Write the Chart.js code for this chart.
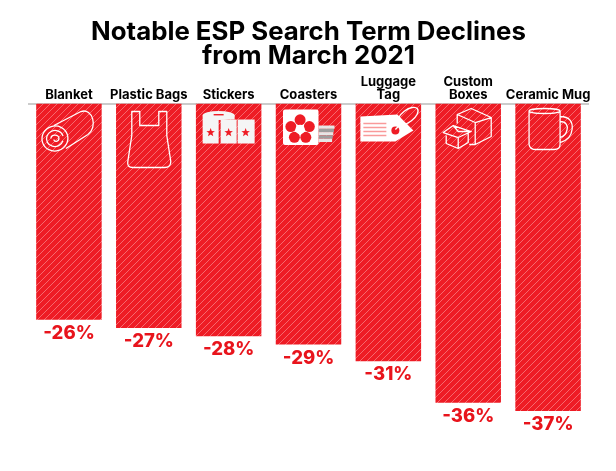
<!DOCTYPE html>
<html lang="en"><head>
  <meta charset="UTF-8">
  <title>Notable ESP Search Term Declines</title>
  <script src="https://cdn.jsdelivr.net/npm/chart.js"></script>
  <style>
    html, body { margin: 0; padding: 0; background: #fff; }
    #wrap { width: 616px; height: 471px; }
  </style>
</head><body>
<div id="wrap"><canvas id="chart"></canvas></div>
<script>
  const categories = ['Blanket', 'Plastic Bags', 'Stickers', 'Coasters', ['Luggage', 'Tag'], ['Custom', 'Boxes'], 'Ceramic Mug'];
  const declines = [-26, -27, -28, -29, -31, -36, -37];
  const iconNames = ['blanket', 'bag', 'stickers', 'coaster', 'tag', 'boxes', 'mug'];
  const titleLines = ['Notable ESP Search Term Declines', 'from March 2021'];

  const RED = '#ee1c25';
  const FONT = 'Inter, sans-serif';

  // diagonal stripes for the bars
  function hatch() {
    const size = 7;
    const c = document.createElement('canvas');
    c.width = size; c.height = size;
    const g = c.getContext('2d');
    g.fillStyle = RED;
    g.fillRect(0, 0, size, size);
    g.strokeStyle = '#f6686e';
    g.lineWidth = 1;
    g.beginPath();
    for (let i = -size; i <= size * 2; i += size) {
      g.moveTo(i, size);
      g.lineTo(i + size, 0);
    }
    g.stroke();
    return g.createPattern(c, 'repeat');
  }

  function star(g, x, y, r) {
    g.beginPath();
    for (let i = 0; i < 10; i++) {
      const a = -Math.PI / 2 + i * Math.PI / 5;
      const d = i % 2 ? r * 0.42 : r;
      g.lineTo(x + Math.cos(a) * d, y + Math.sin(a) * d);
    }
    g.closePath();
    g.fill();
  }

  // icons are decoration, drawn around the bar centre (x) below the axis line (y)
  const icons = {
    blanket(g) {
      g.beginPath();
      g.ellipse(-14, 35, 13, 12.5, -0.3, 0, Math.PI * 2);
      g.moveTo(-15, 22); g.lineTo(12, 8);
      g.bezierCurveTo(24, 4, 29, 24, 19, 31);
      g.lineTo(-3, 45);
      g.stroke();
      g.beginPath();
      g.ellipse(-14, 35, 8.5, 8, -0.3, 0.6, Math.PI * 2);
      g.moveTo(-18, 35);
      g.bezierCurveTo(-18, 30, -10, 31, -10, 35);
      g.bezierCurveTo(-10, 38, -15, 39, -15, 36);
      g.stroke();
    },
    bag(g) {
      g.beginPath();
      g.moveTo(-17, 8); g.lineTo(-9, 8); g.lineTo(-9, 22);
      g.lineTo(10, 22); g.lineTo(10, 8); g.lineTo(18, 8);
      g.lineTo(18, 32); g.lineTo(22, 58);
      g.quadraticCurveTo(22, 64, 16, 64);
      g.lineTo(-16, 64);
      g.quadraticCurveTo(-22, 64, -21, 58);
      g.lineTo(-17, 32);
      g.closePath();
      g.stroke();
    },
    stickers(g) {
      g.fillStyle = '#f5f5f5';
      g.beginPath();
      g.ellipse(-10, 12, 16, 4.5, 0, 0, Math.PI * 2);
      g.fill();
      g.fillRect(-26, 12, 16, 28);
      g.fillRect(-8, 16, 16, 24);
      g.fillRect(9, 16, 17, 24);
      g.fillRect(-10, 12, 16, 4);
      g.fillStyle = RED;
      g.fillRect(-15, 10.5, 10, 1.4);
      star(g, -18, 29, 4.5);
      star(g, 0, 29, 4.5);
      star(g, 17, 29, 4.5);
    },
    coaster(g) {
      // stack of coasters behind the front one
      for (let i = 0; i < 5; i++) {
        g.fillStyle = i % 2 ? '#9e9e9e' : '#e6e6e6';
        g.fillRect(10, 22 + i * 3.3, 16 - i * 0.6, 3.3);
      }
      g.fillStyle = '#fff';
      g.beginPath();
      g.roundRect(-25.5, 6, 35.5, 35.5, 2);
      g.fill();
      g.fillStyle = RED;
      for (let i = 0; i < 5; i++) {
        const a = -Math.PI / 2 + i * 2 * Math.PI / 5;
        g.beginPath();
        g.arc(-8.4 + Math.cos(a) * 9.7, 26 + Math.sin(a) * 9.7, 5.5, 0, Math.PI * 2);
        g.fill();
      }
      g.fillStyle = '#fff';
      g.beginPath();
      g.arc(-8.4, 26, 4.7, 0, Math.PI * 2);
      g.fill();
    },
    tag(g) {
      g.fillStyle = '#fff';
      g.beginPath();
      g.moveTo(-28, 13); g.lineTo(9, 11); g.lineTo(25, 27);
      g.lineTo(7, 38); g.lineTo(-28, 38);
      g.closePath();
      g.fill();
      g.strokeStyle = '#f99a9a';
      g.lineWidth = 1.3;
      g.beginPath();
      [20, 24, 28, 32].forEach(function (ly) { g.moveTo(-25, ly); g.lineTo(-2, ly); });
      g.stroke();
      g.fillStyle = RED;
      g.beginPath();
      g.arc(7, 27, 4, 0, Math.PI * 2);
      g.fill();
      g.strokeStyle = '#fff';
      g.lineWidth = 1.3;
      g.beginPath();
      g.ellipse(19.5, 12.5, 12, 6, -0.65, 0, Math.PI * 2);
      g.moveTo(7, 26); g.lineTo(13, 20);
      g.stroke();
    },
    boxes(g) {
      g.beginPath();
      g.moveTo(-11, 11); g.lineTo(3, 5); g.lineTo(23, 14); g.lineTo(7, 19); g.closePath();
      g.moveTo(-11, 11); g.lineTo(-11, 20);
      g.moveTo(7, 19); g.lineTo(7, 41); g.lineTo(1, 41);
      g.moveTo(23, 14); g.lineTo(23, 33); g.lineTo(7, 41);
      g.moveTo(-25, 29); g.lineTo(-15, 22); g.lineTo(3, 28); g.lineTo(-10, 34); g.closePath();
      g.moveTo(-15, 22); g.lineTo(-10, 28); g.lineTo(3, 28);
      g.moveTo(-22, 32); g.lineTo(-22, 40); g.lineTo(-10, 45); g.lineTo(-10, 34);
      g.moveTo(-10, 45); g.lineTo(0, 39); g.lineTo(0, 30);
      g.stroke();
    },
    mug(g) {
      g.beginPath();
      g.ellipse(-3.5, 7.5, 15.5, 2.5, 0, 0, Math.PI * 2);
      g.moveTo(-19, 7.5); g.lineTo(-19, 41);
      g.quadraticCurveTo(-18, 46, -12, 46);
      g.lineTo(6, 46);
      g.quadraticCurveTo(12, 46, 12, 41);
      g.lineTo(12, 7.5);
      g.moveTo(12, 13);
      g.bezierCurveTo(22, 13, 25, 19, 24, 26);
      g.quadraticCurveTo(23, 36, 12, 39);
      g.moveTo(12, 18);
      g.bezierCurveTo(18, 18, 20, 22, 19, 26);
      g.quadraticCurveTo(18, 32, 12, 34);
      g.stroke();
    }
  };

  // value labels under the bars and icons on top of them
  const barExtras = {
    id: 'barExtras',
    afterDatasetsDraw(chart) {
      const g = chart.ctx;
      const bars = chart.getDatasetMeta(0).data;
      bars.forEach(function (bar, i) {
        g.save();
        g.translate(bar.x, bar.base);
        g.strokeStyle = '#fff';
        g.fillStyle = '#fff';
        g.lineWidth = 1.3;
        g.lineJoin = 'round';
        icons[iconNames[i]](g);
        g.restore();

        g.save();
        g.fillStyle = '#e8141c';
        g.font = '800 18.5px ' + FONT;
        g.textAlign = 'center';
        g.textBaseline = 'alphabetic';
        g.fillText(declines[i] + '%', bar.x, bar.y + 19);
        g.restore();
      });
    }
  };

  new Chart(document.getElementById('chart'), {
    type: 'bar',
    data: {
      labels: categories,
      datasets: [{
        data: declines,
        backgroundColor: hatch(),
        borderWidth: 0,
        barPercentage: 0.82,
        categoryPercentage: 1
      }]
    },
    options: {
      responsive: true,
      maintainAspectRatio: false,
      animation: false,
      layout: { padding: { top: 19.5, left: 29, right: 28, bottom: 35 } },
      plugins: {
        legend: { display: false },
        tooltip: { enabled: false },
        title: {
          display: true,
          text: titleLines,
          color: '#000',
          font: { family: FONT, size: 25.8, weight: '700', lineHeight: 0.95 },
          padding: { top: 0, bottom: 5 }
        }
      },
      scales: {
        x: {
          position: 'top',
          grid: { display: false, drawTicks: false },
          border: { display: true, color: '#cccccc', width: 2 },
          ticks: {
            color: '#000',
            autoSkip: false,
            maxRotation: 0,
            minRotation: 0,
            padding: 2,
            font: { family: FONT, size: 13, weight: '700', lineHeight: 1 }
          }
        },
        y: {
          display: false,
          min: -40,
          max: 0
        }
      }
    },
    plugins: [barExtras]
  });
</script>
</body></html>
